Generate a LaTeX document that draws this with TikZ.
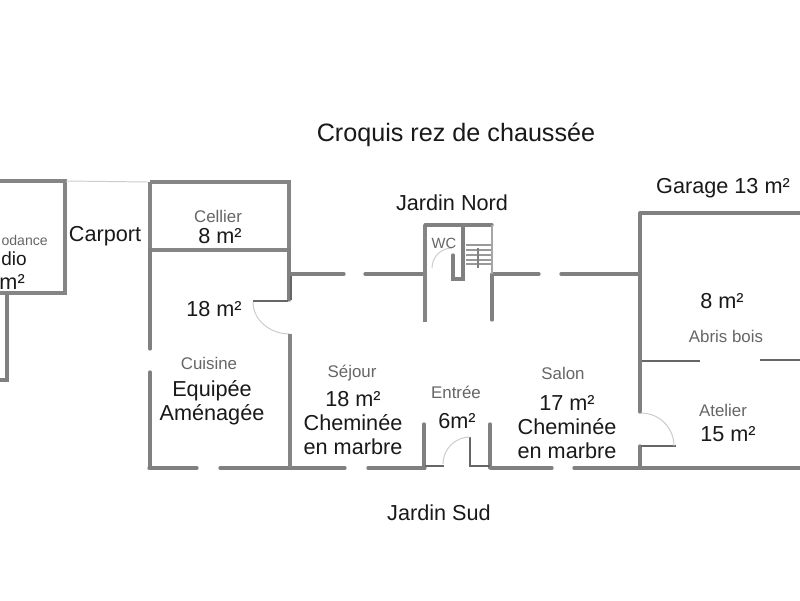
\documentclass[tikz,border=0pt]{standalone}
\usepackage{fontspec}
\setmainfont{Liberation Sans}
\usepackage{tikz}

\begin{document}
\begin{tikzpicture}[x=0.025cm,y=-0.025cm]
    \tikzstyle{wall} = [draw=black!50, line width=2.3pt, line cap=round]
    \tikzstyle{thickwall} = [draw=black!48, line width=3.3pt]
    \tikzstyle{thinwall} = [draw=black!60, line width=1.5pt]
    \tikzstyle{swing} = [draw=black!20, line width=0.7pt]
    \tikzstyle{lbl} = [inner sep=0pt, align=center, font=\fontsize{15.4}{17}\selectfont, text=black!90]
    \tikzstyle{room} = [inner sep=0pt, align=center, font=\fontsize{12}{14}\selectfont, text=black!60]

    \useasboundingbox (0,0) rectangle (800,600);
    \fill[white] (0,0) rectangle (800,600);

    % Left annexe
    \draw[thickwall] (0,181) -- (65,181) -- (65,293) -- (0,293);
    \draw[wall] (7,295) -- (7,380) -- (0,380);
    \draw[swing] (66,181) -- (148,182);

    % Cellier and cuisine
    \draw[thickwall] (150,182) -- (289,182) -- (289,250);
    \draw[thickwall] (150,182) -- (150,250);
    \draw[thickwall] (150,250) -- (289,250);
    \draw[wall] (150,250) -- (150,349);
    \draw[wall] (150,372) -- (150,468);
    \draw[wall] (289,250) -- (289,300);
    \draw[wall] (149,468) -- (197,468);
    \draw[wall] (220,468) -- (345,468);
    \draw[wall] (368,468) -- (425,468);

    % Door of the cuisine
    \draw[thinwall] (253,301) -- (288,301);
    \draw[swing] (253,302) arc[start angle=180, end angle=90, x radius=37, y radius=32];
    \draw[thickwall] (290,334) -- (290,468);
    \draw[thinwall] (291,273) -- (291,300);

    % North wall
    \draw[wall] (291,274) -- (344,274);
    \draw[wall] (365,274) -- (423,274);
    \draw[wall] (493,274) -- (539,274);
    \draw[wall] (561,274) -- (638,274);

    % WC and stairs
    \draw[thickwall] (425,225) -- (425,322);
    \draw[wall] (425,225) -- (492,225);
    \draw[wall] (492,274) -- (492,320);
    \draw[wall] (463,225) -- (463,279) -- (453,279) -- (453,255);
    \draw[swing] (432,268) arc[start angle=180, end angle=270, radius=20];
    \draw[swing, draw=black!35, line width=1.2pt] (492,225) -- (492,274);
    \foreach \y in {245,250,255,260,264} {
        \draw[thinwall, draw=black!40] (466,\y) -- (491,\y);
    }
    \draw[thinwall, draw=black!50] (478,248) -- (478,268);

    % Entree
    \draw[wall] (424,424) -- (424,468);
    \draw[wall] (490,424) -- (490,468);
    \draw[thinwall] (425,466) -- (444,466);
    \draw[thinwall] (470,437) -- (470,466) -- (490,466);
    \draw[swing] (443,464) arc[start angle=180, end angle=270, radius=27];

    % South wall, salon side
    \draw[wall] (491,468) -- (552,468);
    \draw[wall] (574,468) -- (800,468);

    % Garage and atelier
    \draw[wall] (640,213) -- (800,213);
    \draw[wall] (640,213) -- (640,412);
    \draw[wall] (640,446) -- (640,468);
    \draw[thinwall] (642,361) -- (700,361);
    \draw[thinwall] (760,360) -- (800,360);
    \draw[thinwall] (641,446) -- (676,446);
    \draw[swing] (641,413) arc[start angle=-90, end angle=0, radius=33];

    % Labels
    \node[lbl, font=\fontsize{17.9}{20}\selectfont] (title) at (456,135) {Croquis rez de chaussée};
    \node[lbl] (nord) at (452,203) {Jardin Nord};
    \node[lbl] (sud) at (439,513) {Jardin Sud};
    \node[lbl] (carport) at (105,236) {Carport};
    \node[lbl] (garage) at (723,188) {Garage 13 m²};

    \node[room, anchor=east, font=\fontsize{10}{12}\selectfont] (dep) at (48,240) {odance};
    \node[lbl, anchor=west, font=\fontsize{13.5}{15}\selectfont] (studio) at (1,259) {dio};
    \node[lbl, anchor=east] (studiom) at (25,282) {m²};
    \node[room] (cellier) at (218,216) {Cellier};
    \node[lbl] (cellierm) at (220,236) {8 m²};
    \node[lbl] (cuisinem) at (214,309) {18 m²};
    \node[room] (cuisine) at (209,363) {Cuisine};
    \node[lbl] (equipee) at (212,403) {Equipée\\Aménagée};
    \node[room] (sejour) at (352,373) {Séjour};
    \node[lbl] (sejourm) at (353,423) {18 m²\\Cheminée\\en marbre};
    \node[room] (entree) at (456,392) {Entrée};
    \node[lbl] (entreem) at (457,421) {6m²};
    \node[room] (salon) at (563,373) {Salon};
    \node[lbl] (salonm) at (567,427) {17 m²\\Cheminée\\en marbre};
    \node[lbl] (abrism) at (722,301) {8 m²};
    \node[room] (abris) at (726,336) {Abris bois};
    \node[room] (atelier) at (723,410) {Atelier};
    \node[lbl] (atelierm) at (728,434) {15 m²};
    \node[room, font=\fontsize{10.5}{12}\selectfont] (wc) at (444,243) {WC};
\end{tikzpicture}
\end{document}
